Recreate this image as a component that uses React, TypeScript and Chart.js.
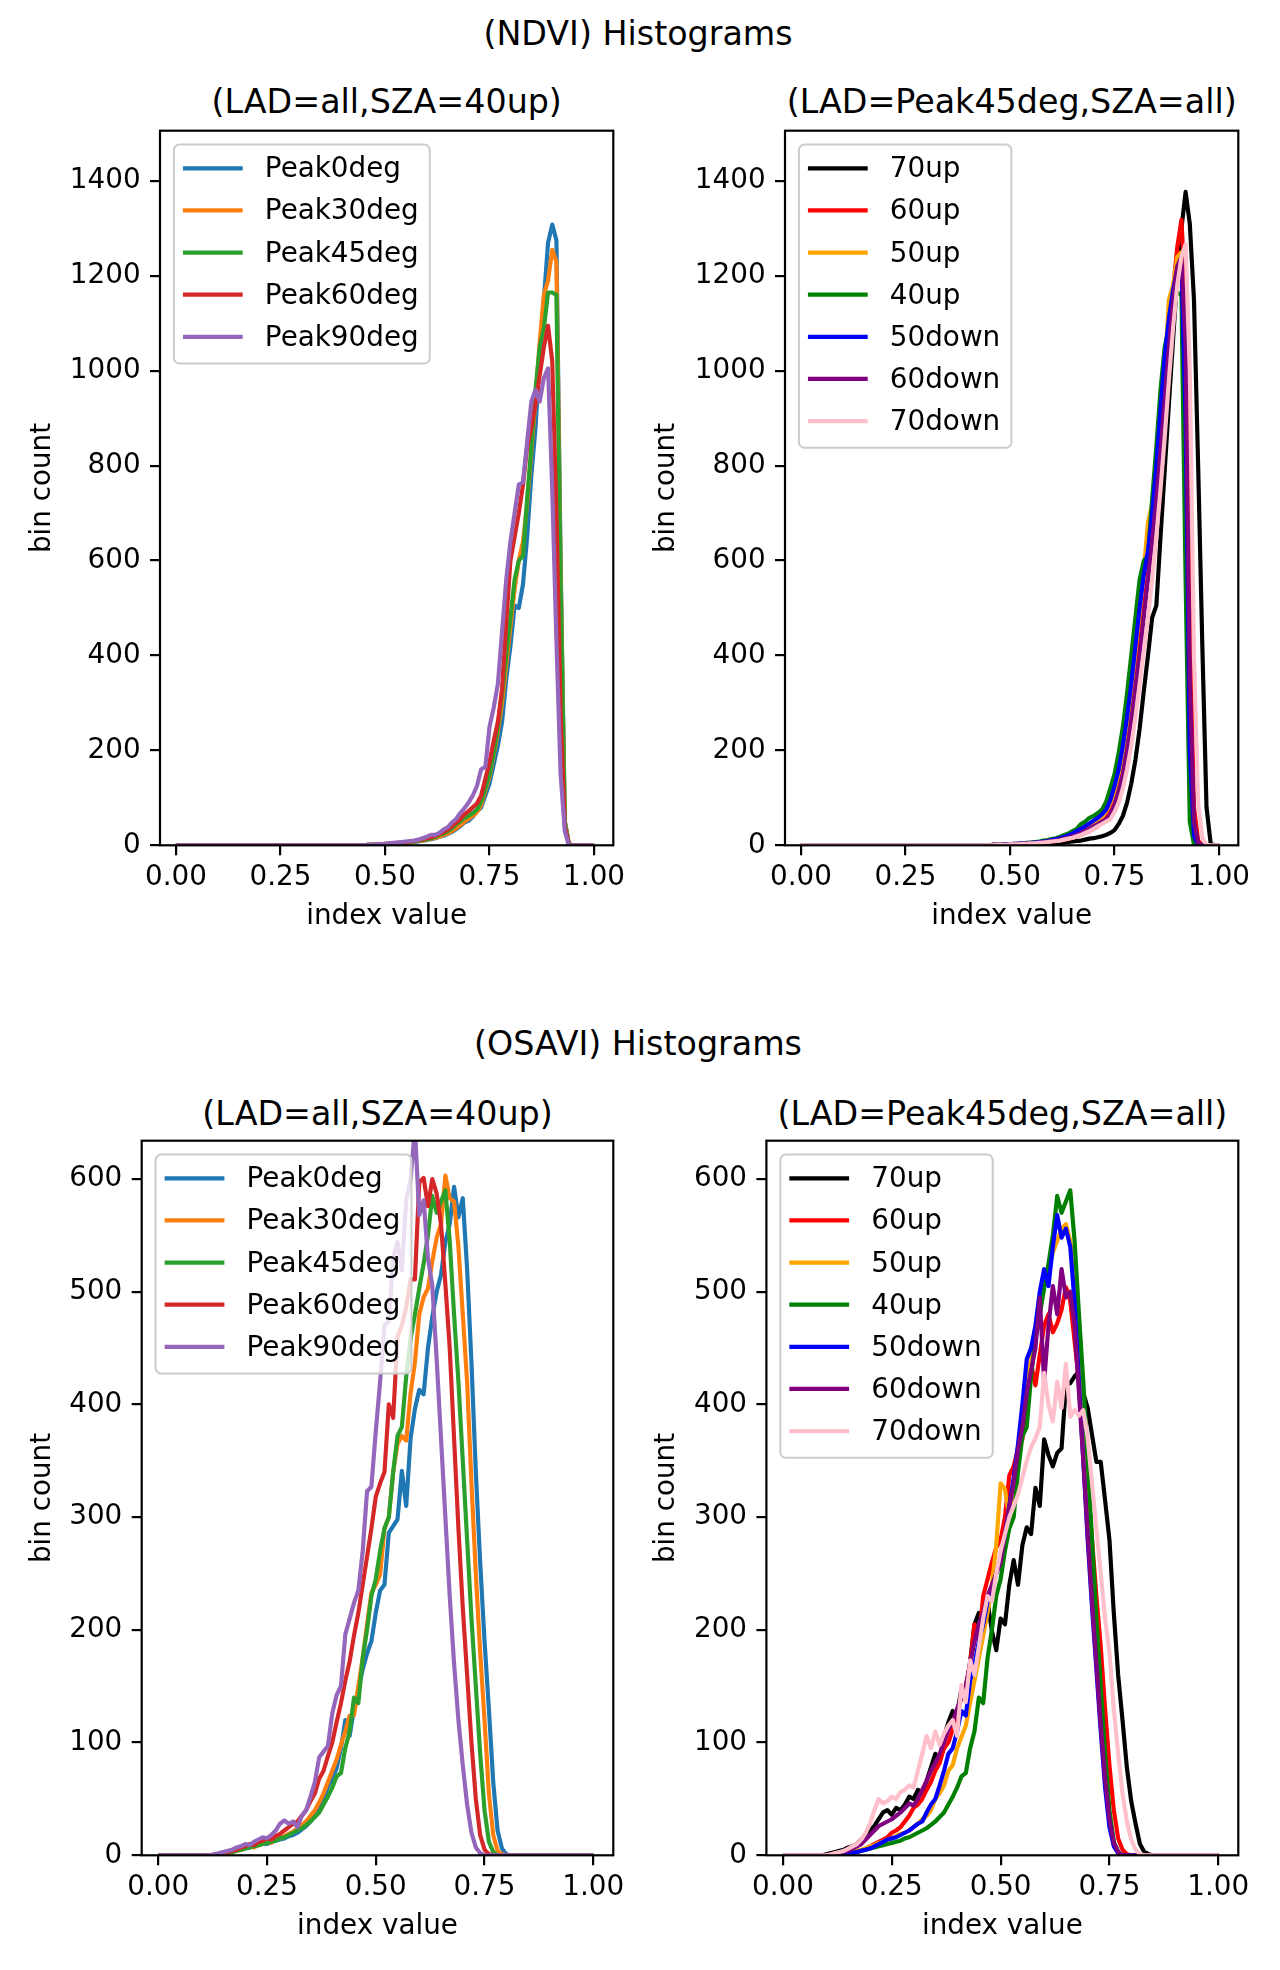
import React, { useEffect, useRef } from "react";
import { Chart, registerables } from "chart.js";

Chart.register(...registerables);

const FONT_FAMILY = '"DejaVu Sans", "Liberation Sans", sans-serif';
const TICK_FS = 27.8;
const TITLE_FS = 33.3;
const LINE_W = 4.17;

const BIN_WIDTH = 0.01;
const X_MIN = -0.038;
const X_MAX = 1.046;
const X_TICKS = [0, 0.25, 0.5, 0.75, 1.0];
const NDVI_Y_TICKS = [0, 200, 400, 600, 800, 1000, 1200, 1400];
const OSAVI_Y_TICKS = [0, 100, 200, 300, 400, 500, 600];
const NDVI_Y_MAX = 1506;
const OSAVI_Y_MAX = 634;

const LAD_LABELS = ["Peak0deg", "Peak30deg", "Peak45deg", "Peak60deg", "Peak90deg"];
const LAD_COLORS = ["#1f77b4", "#ff7f0e", "#2ca02c", "#d62728", "#9467bd"];
const SZA_LABELS = ["70up", "60up", "50up", "40up", "50down", "60down", "70down"];
const SZA_COLORS = ["#000000", "#ff0000", "#ffa500", "#008000", "#0000ff", "#800080", "#ffc0cb"];

// ---------- NDVI, LAD series (SZA = 40up) : counts per 0.01 bin, 0.00 .. 1.00 ----------
const ndviPeak0deg = [
  0, 0, 0, 0, 0, 0, 0, 0, 0, 0,
  0, 0, 0, 0, 0, 0, 0, 0, 0, 0,
  0, 0, 0, 0, 0, 0, 0, 0, 0, 0,
  0, 0, 0, 0, 0, 0, 0, 0, 0, 0,
  0, 0, 0, 0, 0, 0, 1, 1, 1, 2,
  2, 3, 3, 4, 4, 5, 6, 7, 8, 10,
  11, 13, 15, 18, 20, 24, 28, 34, 40, 48,
  52, 60, 72, 80, 105, 130, 170, 210, 260, 350,
  420, 505, 500, 550, 650, 780, 880, 1030, 1150, 1270,
  1308, 1275, 600, 50, 2, 0, 0, 0, 0, 0,
  0,
];
const ndviPeak30deg = [
  0, 0, 0, 0, 0, 0, 0, 0, 0, 0,
  0, 0, 0, 0, 0, 0, 0, 0, 0, 0,
  0, 0, 0, 0, 0, 0, 0, 0, 0, 0,
  0, 0, 0, 0, 0, 0, 0, 0, 0, 0,
  0, 0, 0, 0, 0, 0, 1, 1, 1, 2,
  2, 2, 3, 4, 5, 5, 6, 8, 9, 10,
  12, 14, 16, 18, 22, 25, 30, 36, 42, 50,
  56, 62, 70, 85, 115, 145, 190, 240, 300, 380,
  460, 540, 600, 640, 720, 830, 940, 1060, 1160, 1190,
  1255, 1230, 580, 50, 2, 0, 0, 0, 0, 0,
  0,
];
const ndviPeak45deg = [
  0, 0, 0, 0, 0, 0, 0, 0, 0, 0,
  0, 0, 0, 0, 0, 0, 0, 0, 0, 0,
  0, 0, 0, 0, 0, 0, 0, 0, 0, 0,
  0, 0, 0, 0, 0, 0, 0, 0, 0, 0,
  0, 0, 0, 0, 0, 0, 1, 1, 1, 2,
  2, 3, 3, 4, 5, 6, 7, 8, 10, 11,
  13, 15, 18, 22, 25, 30, 35, 45, 50, 58,
  62, 68, 75, 92, 120, 150, 195, 250, 320, 400,
  480, 560, 600, 610, 730, 840, 960, 1050, 1090, 1165,
  1165, 1160, 560, 50, 2, 0, 0, 0, 0, 0,
  0,
];
const ndviPeak60deg = [
  0, 0, 0, 0, 0, 0, 0, 0, 0, 0,
  0, 0, 0, 0, 0, 0, 0, 0, 0, 0,
  0, 0, 0, 0, 0, 0, 0, 0, 0, 0,
  0, 0, 0, 0, 0, 0, 0, 0, 0, 0,
  0, 0, 0, 0, 0, 0, 1, 1, 2, 2,
  3, 3, 4, 5, 6, 7, 8, 9, 11, 13,
  15, 17, 20, 24, 28, 33, 40, 48, 55, 65,
  72, 80, 88, 105, 140, 175, 220, 260, 330, 470,
  600, 650, 700, 760, 840, 880, 930, 990, 1050, 1095,
  1020, 700, 280, 40, 1, 0, 0, 0, 0, 0,
  0,
];
const ndviPeak90deg = [
  0, 0, 0, 0, 0, 0, 0, 0, 0, 0,
  0, 0, 0, 0, 0, 0, 0, 0, 0, 0,
  0, 0, 0, 0, 0, 0, 0, 0, 0, 0,
  0, 0, 0, 0, 0, 0, 0, 0, 0, 0,
  0, 0, 0, 0, 0, 0, 1, 1, 2, 2,
  3, 4, 5, 6, 7, 8, 9, 10, 12, 15,
  18, 22, 22, 26, 33, 38, 48, 55, 68, 78,
  90, 105, 125, 160, 165, 250, 290, 340, 450, 560,
  640, 700, 760, 765, 850, 935, 960, 935, 985, 1005,
  750, 430, 150, 30, 0, 0, 0, 0, 0, 0,
  0,
];

// ---------- NDVI, SZA series (LAD = Peak45deg) ----------
const ndvi70up = [
  0, 0, 0, 0, 0, 0, 0, 0, 0, 0,
  0, 0, 0, 0, 0, 0, 0, 0, 0, 0,
  0, 0, 0, 0, 0, 0, 0, 0, 0, 0,
  0, 0, 0, 0, 0, 0, 0, 0, 0, 0,
  0, 0, 0, 0, 0, 0, 0, 0, 0, 0,
  0, 1, 1, 1, 2, 2, 2, 3, 3, 4,
  4, 5, 5, 6, 7, 8, 9, 10, 12, 14,
  15, 17, 19, 22, 26, 32, 45, 62, 90, 130,
  180, 245, 325, 400, 480, 505, 650, 790, 930, 1065,
  1195, 1300, 1377, 1310, 1150, 800, 420, 80, 3, 0,
  0,
];
const ndvi60up = [
  0, 0, 0, 0, 0, 0, 0, 0, 0, 0,
  0, 0, 0, 0, 0, 0, 0, 0, 0, 0,
  0, 0, 0, 0, 0, 0, 0, 0, 0, 0,
  0, 0, 0, 0, 0, 0, 0, 0, 0, 0,
  0, 0, 0, 0, 0, 0, 1, 1, 1, 1,
  2, 2, 2, 3, 3, 4, 4, 5, 6, 7,
  8, 9, 10, 12, 14, 16, 19, 22, 26, 30,
  35, 40, 48, 58, 70, 90, 120, 160, 210, 270,
  340, 420, 500, 570, 650, 740, 850, 960, 1070, 1170,
  1260, 1318, 1150, 500, 80, 10, 0, 0, 0, 0,
  0,
];
const ndvi50up = [
  0, 0, 0, 0, 0, 0, 0, 0, 0, 0,
  0, 0, 0, 0, 0, 0, 0, 0, 0, 0,
  0, 0, 0, 0, 0, 0, 0, 0, 0, 0,
  0, 0, 0, 0, 0, 0, 0, 0, 0, 0,
  0, 0, 0, 0, 0, 0, 1, 1, 1, 2,
  2, 2, 3, 3, 4, 4, 5, 6, 7, 8,
  10, 11, 13, 15, 18, 21, 25, 29, 34, 40,
  45, 52, 60, 72, 90, 115, 150, 200, 260, 330,
  410, 490, 580, 680, 720, 800, 900, 1000, 1150, 1180,
  1240, 1250, 700, 100, 5, 0, 0, 0, 0, 0,
  0,
];
const ndvi40up = ndviPeak45deg;
const ndvi50down = [
  0, 0, 0, 0, 0, 0, 0, 0, 0, 0,
  0, 0, 0, 0, 0, 0, 0, 0, 0, 0,
  0, 0, 0, 0, 0, 0, 0, 0, 0, 0,
  0, 0, 0, 0, 0, 0, 0, 0, 0, 0,
  0, 0, 0, 0, 0, 0, 1, 1, 1, 2,
  2, 3, 3, 4, 4, 5, 6, 7, 8, 9,
  11, 13, 15, 18, 21, 25, 30, 35, 40, 46,
  52, 58, 65, 75, 95, 125, 160, 210, 270, 340,
  420, 500, 570, 620, 700, 800, 920, 1030, 1110, 1170,
  1215, 1220, 900, 200, 20, 1, 0, 0, 0, 0,
  0,
];
const ndvi60down = [
  0, 0, 0, 0, 0, 0, 0, 0, 0, 0,
  0, 0, 0, 0, 0, 0, 0, 0, 0, 0,
  0, 0, 0, 0, 0, 0, 0, 0, 0, 0,
  0, 0, 0, 0, 0, 0, 0, 0, 0, 0,
  0, 0, 0, 0, 0, 0, 1, 1, 1, 1,
  2, 2, 3, 3, 4, 4, 5, 6, 7, 8,
  9, 10, 12, 14, 16, 19, 22, 26, 30, 35,
  40, 45, 50, 55, 65, 85, 115, 150, 200, 260,
  330, 400, 480, 560, 640, 730, 830, 940, 1050, 1150,
  1220, 1240, 1050, 350, 50, 5, 0, 0, 0, 0,
  0,
];
const ndvi70down = [
  0, 0, 0, 0, 0, 0, 0, 0, 0, 0,
  0, 0, 0, 0, 0, 0, 0, 0, 0, 0,
  0, 0, 0, 0, 0, 0, 0, 0, 0, 0,
  0, 0, 0, 0, 0, 0, 0, 0, 0, 0,
  0, 0, 0, 0, 0, 0, 0, 1, 1, 1,
  2, 2, 2, 3, 3, 4, 4, 5, 6, 7,
  8, 9, 10, 12, 14, 16, 19, 22, 26, 30,
  35, 40, 45, 50, 55, 70, 90, 120, 160, 210,
  270, 340, 410, 480, 560, 650, 750, 860, 980, 1090,
  1180, 1240, 1267, 1000, 400, 90, 15, 1, 0, 0,
  0,
];

// ---------- OSAVI, LAD series (SZA = 40up) ----------
const osaviPeak0deg = [
  0, 0, 0, 0, 0, 0, 0, 0, 0, 0,
  0, 0, 0, 0, 1, 1, 2, 3, 4, 5,
  6, 7, 8, 9, 11, 10, 12, 13, 14, 15,
  17, 18, 20, 23, 26, 30, 36, 42, 50, 61,
  68, 77, 95, 120, 106, 130, 147, 165, 179, 190,
  215, 235, 240, 286, 292, 298, 341, 310, 370, 396,
  413, 409, 450, 478, 500, 515, 544, 560, 593, 566,
  583, 520, 437, 340, 260, 190, 130, 65, 22, 6,
  1, 0, 0, 0, 0, 0, 0, 0, 0, 0,
  0, 0, 0, 0, 0, 0, 0, 0, 0, 0,
  0,
];
const osaviPeak30deg = [
  0, 0, 0, 0, 0, 0, 0, 0, 0, 0,
  0, 0, 0, 0, 1, 1, 2, 3, 4, 5,
  6, 8, 7, 9, 10, 12, 11, 14, 15, 17,
  19, 21, 24, 27, 30, 35, 40, 47, 55, 65,
  75, 85, 98, 110, 124, 124, 150, 175, 205, 233,
  240, 249, 290, 300, 340, 365, 372, 368, 410, 437,
  480, 495, 503, 527, 548, 560, 603, 583, 580, 540,
  480, 420, 330, 250, 180, 120, 55, 18, 4, 1,
  0, 0, 0, 0, 0, 0, 0, 0, 0, 0,
  0, 0, 0, 0, 0, 0, 0, 0, 0, 0,
  0,
];
const osaviPeak45deg = [
  0, 0, 0, 0, 0, 0, 0, 0, 0, 0,
  0, 0, 0, 0, 1, 1, 2, 3, 4, 5,
  6, 7, 8, 9, 10, 11, 12, 13, 15, 16,
  18, 20, 22, 24, 27, 30, 34, 38, 45, 52,
  60, 70, 73, 95, 110, 140, 135, 175, 200, 230,
  245, 270, 290, 300, 340, 372, 380, 425, 458, 480,
  503, 525, 550, 585, 570, 580, 590, 545, 480, 420,
  350, 280, 210, 150, 90, 40, 12, 3, 0, 0,
  0, 0, 0, 0, 0, 0, 0, 0, 0, 0,
  0, 0, 0, 0, 0, 0, 0, 0, 0, 0,
  0,
];
const osaviPeak60deg = [
  0, 0, 0, 0, 0, 0, 0, 0, 0, 0,
  0, 0, 0, 1, 1, 2, 3, 4, 5, 7,
  8, 10, 9, 12, 13, 15, 14, 17, 19, 22,
  25, 28, 30, 35, 40, 48, 55, 68, 75, 88,
  100, 118, 135, 155, 172, 195, 215, 240, 265, 290,
  318, 330, 340, 400, 388, 460, 470, 486, 511, 511,
  597, 601, 576, 600, 587, 560, 507, 450, 370, 290,
  220, 160, 100, 50, 18, 5, 1, 0, 0, 0,
  0, 0, 0, 0, 0, 0, 0, 0, 0, 0,
  0, 0, 0, 0, 0, 0, 0, 0, 0, 0,
  0,
];
const osaviPeak90deg = [
  0, 0, 0, 0, 0, 0, 0, 0, 0, 0,
  0, 0, 0, 1, 2, 3, 4, 5, 7, 8,
  10, 9, 12, 14, 16, 15, 18, 22, 28, 31,
  28, 30, 25, 35, 40, 52, 65, 87, 92, 97,
  126, 142, 150, 196, 210, 224, 235, 270, 323, 327,
  376, 420, 470, 474, 530, 544, 519, 581, 600, 645,
  568, 581, 530, 505, 440, 370, 300, 230, 170, 120,
  80, 45, 20, 7, 2, 0, 0, 0, 0, 0,
  0, 0, 0, 0, 0, 0, 0, 0, 0, 0,
  0, 0, 0, 0, 0, 0, 0, 0, 0, 0,
  0,
];

// ---------- OSAVI, SZA series (LAD = Peak45deg) ----------
const osavi70up = [
  0, 0, 0, 0, 0, 0, 0, 0, 0, 0,
  1, 2, 3, 4, 5, 7, 8, 10, 14, 18,
  22, 26, 32, 38, 40, 36, 42, 40, 45, 52,
  50, 58, 56, 66, 78, 90, 85, 105, 118, 128,
  125, 148, 145, 172, 205, 215, 202, 225, 199, 182,
  210, 205, 240, 262, 240, 275, 291, 285, 326, 310,
  369, 355, 345, 357, 361, 417, 419, 425, 429, 410,
  397, 373, 349, 349, 315, 280, 215, 160, 120, 78,
  48, 28, 10, 3, 1, 0, 0, 0, 0, 0,
  0, 0, 0, 0, 0, 0, 0, 0, 0, 0,
  0,
];
const osavi60up = [
  0, 0, 0, 0, 0, 0, 0, 0, 0, 0,
  0, 0, 0, 0, 1, 1, 2, 3, 4, 6,
  8, 10, 12, 14, 16, 20, 22, 25, 30, 35,
  42, 45, 50, 58, 65, 75, 82, 95, 100, 112,
  125, 140, 150, 170, 205, 190, 230, 245, 260, 273,
  280, 300, 337, 345, 361, 369, 409, 436, 417, 444,
  470, 480, 464, 472, 484, 504, 492, 456, 420, 380,
  330, 280, 230, 185, 130, 80, 40, 15, 5, 1,
  0, 0, 0, 0, 0, 0, 0, 0, 0, 0,
  0, 0, 0, 0, 0, 0, 0, 0, 0, 0,
  0,
];
const osavi50up = [
  0, 0, 0, 0, 0, 0, 0, 0, 0, 0,
  0, 0, 0, 1, 1, 2, 3, 4, 5, 6,
  8, 9, 11, 12, 14, 15, 17, 19, 20, 22,
  25, 28, 32, 35, 40, 50, 55, 62, 75, 80,
  95, 105, 115, 135, 155, 175, 195, 215, 240, 275,
  330, 325, 300, 330, 360, 390, 420, 440, 470, 490,
  505, 520, 535, 545, 556, 560, 545, 520, 460, 390,
  330, 260, 190, 120, 65, 28, 9, 2, 0, 0,
  0, 0, 0, 0, 0, 0, 0, 0, 0, 0,
  0, 0, 0, 0, 0, 0, 0, 0, 0, 0,
  0,
];
const osavi40up = osaviPeak45deg;
const osavi50down = [
  0, 0, 0, 0, 0, 0, 0, 0, 0, 0,
  0, 0, 0, 1, 1, 2, 2, 3, 4, 5,
  6, 8, 10, 12, 14, 15, 16, 18, 20, 22,
  25, 28, 30, 38, 45, 50, 62, 75, 90, 95,
  110, 128, 124, 155, 170, 190, 205, 225, 235, 250,
  265, 285, 310, 335, 365, 400, 440, 450, 470, 500,
  520, 505, 540, 568, 548, 556, 540, 490, 420, 350,
  280, 220, 165, 110, 60, 25, 8, 2, 0, 0,
  0, 0, 0, 0, 0, 0, 0, 0, 0, 0,
  0, 0, 0, 0, 0, 0, 0, 0, 0, 0,
  0,
];
const osavi60down = [
  0, 0, 0, 0, 0, 0, 0, 0, 0, 0,
  0, 0, 1, 2, 3, 4, 6, 8, 10, 14,
  18, 22, 26, 28, 30, 32, 35, 38, 42, 46,
  44, 50, 58, 66, 75, 82, 90, 100, 112, 118,
  130, 140, 150, 170, 190, 205, 215, 230, 240, 250,
  260, 285, 310, 330, 360, 380, 410, 430, 450, 495,
  420, 470, 505, 480, 520, 495, 500, 470, 410, 350,
  285, 225, 170, 115, 68, 32, 11, 3, 0, 0,
  0, 0, 0, 0, 0, 0, 0, 0, 0, 0,
  0, 0, 0, 0, 0, 0, 0, 0, 0, 0,
  0,
];
const osavi70down = [
  0, 0, 0, 0, 0, 0, 0, 0, 0, 0,
  0, 1, 2, 3, 4, 6, 8, 10, 14, 20,
  28, 40, 50, 46, 48, 52, 50, 56, 58, 62,
  60, 75, 90, 106, 95, 110, 98, 108, 115, 120,
  106, 151, 136, 173, 160, 185, 210, 230, 225, 250,
  270, 285, 300, 310, 320, 335, 350, 362, 370, 380,
  428, 400, 385, 420, 397, 436, 389, 395, 390, 395,
  370, 330, 290, 250, 210, 180, 130, 90, 55, 30,
  14, 5, 1, 0, 0, 0, 0, 0, 0, 0,
  0, 0, 0, 0, 0, 0, 0, 0, 0, 0,
  0,
];

const NDVI_LAD_SERIES = [ndviPeak0deg, ndviPeak30deg, ndviPeak45deg, ndviPeak60deg, ndviPeak90deg];
const NDVI_SZA_SERIES = [ndvi70up, ndvi60up, ndvi50up, ndvi40up, ndvi50down, ndvi60down, ndvi70down];
const OSAVI_LAD_SERIES = [osaviPeak0deg, osaviPeak30deg, osaviPeak45deg, osaviPeak60deg, osaviPeak90deg];
const OSAVI_SZA_SERIES = [osavi70up, osavi60up, osavi50up, osavi40up, osavi50down, osavi60down, osavi70down];

type PanelSpec = {
  left: number;
  top: number;
  width: number;
  height: number;
  yAxisWidth: number;
  padRight: number;
  padTop: number;
  xAxisHeight: number;
  yTitlePad: number;
  yMax: number;
  yTicks: number[];
  labels: string[];
  colors: string[];
  series: number[][];
};

const PANELS: PanelSpec[] = [
  { left: 0, top: 90, width: 650, height: 847, yAxisWidth: 160, padRight: 36.7, padTop: 40.7, xAxisHeight: 91.7, yTitlePad: 26.3,
    yMax: NDVI_Y_MAX, yTicks: NDVI_Y_TICKS, labels: LAD_LABELS, colors: LAD_COLORS, series: NDVI_LAD_SERIES },
  { left: 640, top: 90, width: 640, height: 847, yAxisWidth: 145, padRight: 41.7, padTop: 40.7, xAxisHeight: 91.7, yTitlePad: 10.3,
    yMax: NDVI_Y_MAX, yTicks: NDVI_Y_TICKS, labels: SZA_LABELS, colors: SZA_COLORS, series: NDVI_SZA_SERIES },
  { left: 0, top: 1100, width: 650, height: 847, yAxisWidth: 141.7, padRight: 36.7, padTop: 40.7, xAxisHeight: 91.7, yTitlePad: 26.3,
    yMax: OSAVI_Y_MAX, yTicks: OSAVI_Y_TICKS, labels: LAD_LABELS, colors: LAD_COLORS, series: OSAVI_LAD_SERIES },
  { left: 640, top: 1100, width: 640, height: 847, yAxisWidth: 126.4, padRight: 41.7, padTop: 40.7, xAxisHeight: 91.7, yTitlePad: 10.3,
    yMax: OSAVI_Y_MAX, yTicks: OSAVI_Y_TICKS, labels: SZA_LABELS, colors: SZA_COLORS, series: OSAVI_SZA_SERIES },
];

const frameAndLegend = {
  id: "frameAndLegend",
  afterDraw(chart: any) {
    const { ctx, chartArea } = chart;
    const { left, top, right, bottom } = chartArea;
    ctx.save();
    ctx.strokeStyle = "#000";
    ctx.lineWidth = 2.2;
    ctx.strokeRect(left, top, right - left, bottom - top);

    const fs = TICK_FS;
    const pad = 0.4 * fs;
    const axPad = 0.5 * fs;
    const handleLen = 2 * fs;
    const handleGap = 0.8 * fs;
    const spacing = 0.5 * fs;
    const rowH = 1.015 * fs;
    ctx.font = `${fs}px ${FONT_FAMILY}`;
    const items = chart.data.datasets;
    let maxW = 0;
    items.forEach((d: any) => {
      maxW = Math.max(maxW, ctx.measureText(d.label).width);
    });
    const bx = left + axPad;
    const by = top + axPad;
    const bw = pad * 2 + handleLen + handleGap + maxW + 2;
    const bh = pad * 2 + items.length * rowH + (items.length - 1) * spacing;
    ctx.beginPath();
    if (ctx.roundRect) ctx.roundRect(bx, by, bw, bh, 0.2 * fs);
    else ctx.rect(bx, by, bw, bh);
    ctx.fillStyle = "rgba(255,255,255,0.8)";
    ctx.fill();
    ctx.strokeStyle = "#cccccc";
    ctx.lineWidth = 2;
    ctx.stroke();
    items.forEach((d: any, i: number) => {
      const rowTop = by + pad + i * (rowH + spacing);
      const hy = rowTop + 0.4 * fs + 1.5;
      ctx.beginPath();
      ctx.moveTo(bx + pad, hy);
      ctx.lineTo(bx + pad + handleLen, hy);
      ctx.strokeStyle = d.borderColor;
      ctx.lineWidth = LINE_W;
      ctx.lineCap = "square";
      ctx.stroke();
      ctx.fillStyle = "#000";
      ctx.textAlign = "left";
      ctx.textBaseline = "alphabetic";
      ctx.fillText(d.label, bx + pad + handleLen + handleGap + 2, hy + 9);
    });
    ctx.restore();
  },
};

function buildConfig(spec: PanelSpec): any {
  const n = spec.series.length;
  const datasets = spec.series.map((values, i) => ({
    label: spec.labels[i],
    data: values.map((y, j) => ({ x: j * BIN_WIDTH, y })),
    borderColor: spec.colors[i],
    backgroundColor: spec.colors[i],
    borderWidth: LINE_W,
    borderJoinStyle: "round",
    pointRadius: 0,
    pointHoverRadius: 0,
    fill: false,
    tension: 0,
    order: n - i,
  }));
  const tickFont = { family: FONT_FAMILY, size: TICK_FS };
  return {
    type: "line",
    data: { datasets },
    plugins: [frameAndLegend],
    options: {
      responsive: false,
      maintainAspectRatio: false,
      animation: false,
      devicePixelRatio: 1,
      events: [],
      layout: { padding: { left: 0, right: spec.padRight, top: spec.padTop, bottom: 0 } },
      plugins: { legend: { display: false }, tooltip: { enabled: false }, title: { display: false } },
      scales: {
        x: {
          type: "linear",
          min: X_MIN,
          max: X_MAX,
          afterBuildTicks: (s: any) => {
            s.ticks = X_TICKS.map((v) => ({ value: v }));
          },
          afterFit: (s: any) => {
            s.height = spec.xAxisHeight;
          },
          ticks: {
            callback: (v: any) => Number(v).toFixed(2),
            font: tickFont,
            color: "#000",
            padding: 6,
            maxRotation: 0,
            minRotation: 0,
            autoSkip: false,
          },
          grid: { display: true, drawOnChartArea: false, drawTicks: true, tickLength: 10, color: "#000", lineWidth: 2.2 },
          border: { display: false },
          title: {
            display: true,
            text: "index value",
            color: "#000",
            font: tickFont,
            padding: { top: 0, bottom: 3.9 },
          },
        },
        y: {
          type: "linear",
          min: 0,
          max: spec.yMax,
          afterBuildTicks: (s: any) => {
            s.ticks = spec.yTicks.map((v) => ({ value: v }));
          },
          afterFit: (s: any) => {
            s.width = spec.yAxisWidth;
          },
          ticks: {
            callback: (v: any) => String(v),
            font: tickFont,
            color: "#000",
            padding: 9.4,
            autoSkip: false,
          },
          grid: { display: true, drawOnChartArea: false, drawTicks: true, tickLength: 10, color: "#000", lineWidth: 2.2 },
          border: { display: false },
          title: {
            display: true,
            text: "bin count",
            color: "#000",
            font: tickFont,
            padding: { top: spec.yTitlePad, bottom: 0 },
          },
        },
      },
    },
  };
}

function ChartPanel({ spec }: { spec: PanelSpec }) {
  const ref = useRef<HTMLCanvasElement | null>(null);
  useEffect(() => {
    if (!ref.current) return;
    const chart = new Chart(ref.current, buildConfig(spec));
    return () => chart.destroy();
  }, [spec]);
  return (
    <canvas
      ref={ref}
      width={spec.width}
      height={spec.height}
      style={{ position: "absolute", left: spec.left, top: spec.top, width: spec.width, height: spec.height }}
    />
  );
}

function TitleText({ text, cx, top }: { text: string; cx: number; top: number }) {
  return (
    <div
      style={{
        position: "absolute",
        left: cx - 400,
        top,
        width: 800,
        textAlign: "center",
        fontFamily: FONT_FAMILY,
        fontSize: TITLE_FS,
        lineHeight: 1,
        color: "#000",
        whiteSpace: "nowrap",
      }}
    >
      {text}
    </div>
  );
}

export default function App() {
  return (
    <div style={{ position: "absolute", left: 0, top: 0, width: 1280, height: 1970, background: "#fff", overflow: "hidden" }}>
      <TitleText text="(NDVI) Histograms" cx={638} top={17} />
      <TitleText text="(LAD=all,SZA=40up)" cx={386.7} top={84.8} />
      <TitleText text="(LAD=Peak45deg,SZA=all)" cx={1011.7} top={84.8} />
      <TitleText text="(OSAVI) Histograms" cx={638} top={1027} />
      <TitleText text="(LAD=all,SZA=40up)" cx={377.5} top={1096.5} />
      <TitleText text="(LAD=Peak45deg,SZA=all)" cx={1002.4} top={1096.5} />
      {PANELS.map((p, i) => (
        <ChartPanel key={i} spec={p} />
      ))}
    </div>
  );
}
